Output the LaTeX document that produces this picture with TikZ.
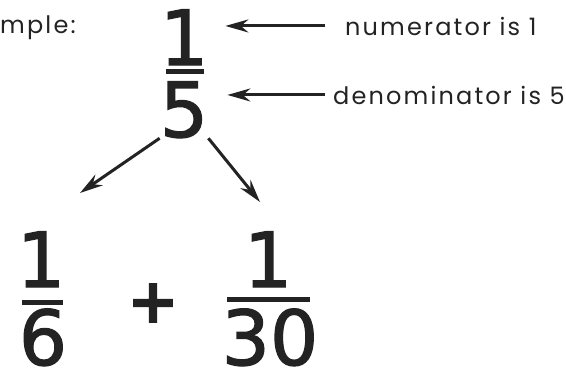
\documentclass[tikz,border=0pt]{standalone}
\usepackage{fontspec}
\setmainfont{Poppins}[LetterSpace=9]
\newfontfamily\digitfont{DejaVu Sans}[FakeBold=1.6]
\usetikzlibrary{arrows.meta}
\definecolor{ink}{RGB}{35,35,35}

\begin{document}
\begin{tikzpicture}[x=1pt, y=-1pt, every node/.style={inner sep=0pt, text=ink},
  digit/.style={anchor=base, font=\digitfont\fontsize{76}{80}\selectfont},
  txt/.style={anchor=base west, font=\fontsize{24}{28}\selectfont},
  arr/.style={draw=ink, line width=3pt, -{Stealth[length=23pt, width=13pt]}},
  bar/.style={draw=ink, line width=5pt}]
\useasboundingbox (0,0) rectangle (566,372);

\node[txt] (ex) at (0,33) {mple:};
\node[digit] (one) at (184,65) {1};
\node[digit] (five) at (184,137) {5};
\node[txt] (numtxt) at (345,35) {numerator is 1};
\node[txt] (dentxt) at (333,104) {denominator is 5};

\node[digit] (oneL) at (41,287) {1};
\node[digit] (six) at (43,365) {6};
\node[digit, anchor=center, font=\digitfont\bfseries\fontsize{62}{64}\selectfont] (plus) at (153,303) {+};
\node[digit] (oneR) at (268,287) {1};
\node[digit] (thirty) at (270,365) {30};
\coordinate (tipL) at (80,193);
\coordinate (tipR) at (260,202);

% fraction bars
\draw[bar] (166,71) -- (204,71);
\draw[bar] (22,302) -- (63,302);
\draw[bar] (227,299) -- (310,299);

\draw[arr, shorten <=20pt, shorten >=17pt] (numtxt.west) -- (numtxt.west -| one.east);
\draw[arr, shorten <=8pt, shorten >=19pt] (dentxt.west) -- (dentxt.west -| five.east);
\draw[arr] (five.south west) -- (tipL);
\draw[arr] (five.south east) -- (tipR);
\end{tikzpicture}
\end{document}
